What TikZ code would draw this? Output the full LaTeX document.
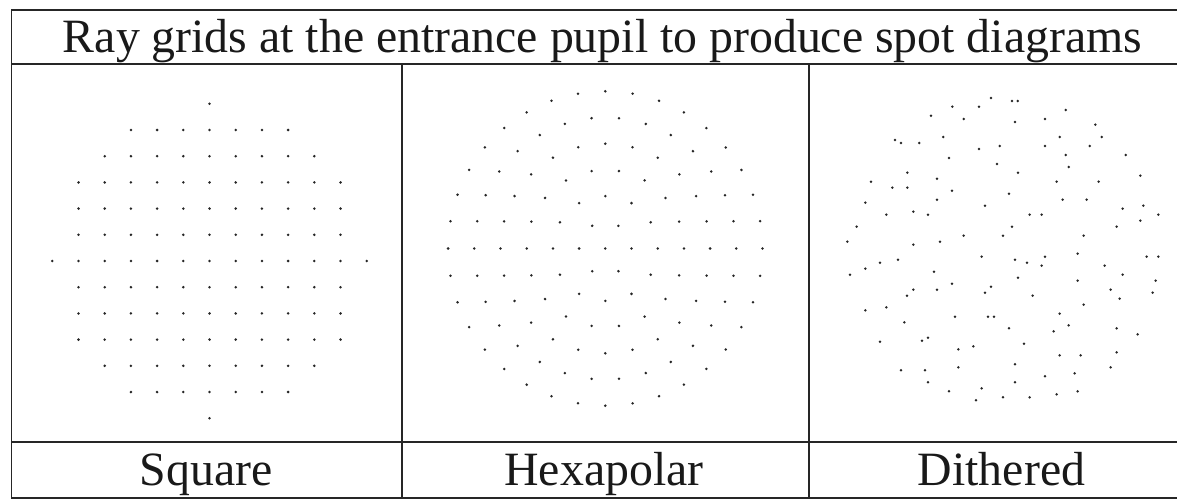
\documentclass[tikz,border=0pt]{standalone}
\usepackage{fontspec}
\setmainfont{Liberation Serif}
\usetikzlibrary{calc}
\begin{document}
\begin{tikzpicture}[x=1pt,y=-1pt,
  rule/.style={line width=1.9pt,draw=black!85,line cap=rect},
  lbl/.style={anchor=base,inner sep=0pt,font=\fontsize{47.8}{56}\selectfont,text=black!90},
  spot/.style={fill=black!85}]
\useasboundingbox (0,0) rectangle (1177,500);
\fill[white] (0,0) rectangle (1177,500);
% table rules
\draw[rule] (11.5,9.7) -- (1200,9.7);
\draw[rule] (11.5,63.7) -- (1200,63.7);
\draw[rule] (11.5,442.3) -- (1200,442.3);
\draw[rule] (11.5,498.3) -- (1200,498.3);
\draw[rule] (11.5,9.7) -- (11.5,498.3);
\draw[rule] (402,63.7) -- (402,498.3);
\draw[rule] (809,63.7) -- (809,498.3);
% texts
\node[lbl] (title) at (602.5,52.7) {Ray grids at the entrance pupil to produce spot diagrams};
\node[lbl] (sq) at (206,485) {Square};
\node[lbl] (hex) at (604,485) {Hexapolar};
\node[lbl] (dith) at (1001.5,485) {Dithered};
% square grid
\foreach \i in {-6,...,6}{
  \foreach \j in {-6,...,6}{
    \pgfmathtruncatemacro\rr{\i*\i+\j*\j}
    \ifnum\rr<37
      \fill[spot] (209.5+26.2*\i,261+26.2*\j) circle[radius=1.4pt];
    \fi
  }
}
% hexapolar grid
\fill[spot] (605.3,248.5) circle[radius=1.4pt];
\foreach \k in {1,...,6}{
  \pgfmathtruncatemacro\nn{6*\k-1}
  \foreach \m in {0,...,\nn}{
    \fill[spot] ($(605.3,248.5)+({26.2*\k*cos(\m*60/\k)},{26.2*\k*sin(\m*60/\k)})$) circle[radius=1.4pt];
  }
}
% dithered grid
\begin{scope}[shift={(800,70)},x=0.33333pt,y=-0.33333pt]
\foreach \p in {
(573,84),(636,93),(653,93),(457,110),(537,110),(797,120),
(393,137),(491,147),(645,156),(735,147),(886,164),
(285,210),(303,219),(358,219),(430,201),(779,201),(905,201),
(537,237),(599,228),(735,228),(869,228),
(447,264),(797,255),(977,255),
(591,282),(806,291),
(322,308),(654,308),(1021,317),
(213,335),(411,326),(770,335),(896,335),
(277,353),(322,353),(456,362),(627,371),
(196,398),(411,389),(788,389),(860,389),
(555,407),(968,416),(1030,407),
(259,434),(340,425),(384,434),(689,434),(725,434),(1075,434),
(1021,452),
(170,470),(636,470),(950,470),
(491,497),(609,497),(851,497),
(142,515),(420,515),(340,524),
(545,560),(645,569),(681,578),(735,560),(833,551),(1040,560),(1075,560),
(240,578),(294,569),(725,587),(914,587),
(196,596),(150,614),(402,605),
(654,623),(968,614),(833,632),(1067,632),
(456,641),(340,659),(411,659),(573,650),(555,668),(321,677),(698,677),(932,659),(959,686),(1058,668),
(851,704),
(196,721),(259,712),
(465,740),(564,740),(582,740),(779,731),
(313,757),(627,775),(806,766),(761,784),(950,775),
(1013,793),
(240,815),(366,812),(384,803),
(520,829),(475,838),(672,821),
(779,856),(842,856),(950,847),
(645,883),(932,892),
(303,901),(375,901),(475,892),(824,910),(735,919),
(384,937),(645,937),
(545,955),(447,964),(833,964),(770,973),
(528,991),(609,982),(689,982)}{
  \fill[spot] \p circle[radius=1.4pt];
}
\end{scope}
\end{tikzpicture}
\end{document}
